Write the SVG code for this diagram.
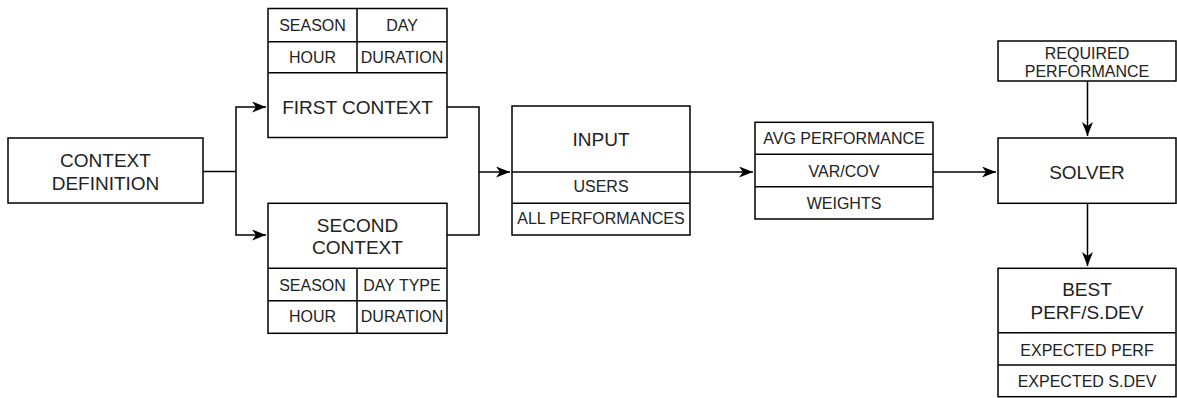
<svg xmlns="http://www.w3.org/2000/svg" width="1177" height="398" viewBox="0 0 1177 398">
<style>
rect,.sep{fill:none;stroke:#000;stroke-width:1.5}
rect{fill:#fff}
text{font-family:"Liberation Sans",Arial,sans-serif;fill:#222;text-anchor:middle}
.l{font-size:19px}
.s{font-size:16px}
.c{fill:none;stroke:#000;stroke-width:1.5}
</style>
<defs>
<marker id="a" viewBox="0 0 14 11" refX="14" refY="5.5" markerWidth="14" markerHeight="11" markerUnits="userSpaceOnUse" orient="auto">
<path d="M0,0 L14,5.5 L0,11 L4,5.5 Z" fill="#000"/>
</marker>
</defs>
<g id="connectors">
<path class="c" d="M203,171.5 H236 V107 H266" marker-end="url(#a)"/>
<path class="c" d="M236,171.5 V235 H266" marker-end="url(#a)"/>
<path class="c" d="M447,107 H479 V235 H447"/>
<path class="c" d="M479,172 H510" marker-end="url(#a)"/>
<path class="c" d="M690,172 H753" marker-end="url(#a)"/>
<path class="c" d="M933,172 H996" marker-end="url(#a)"/>
<path class="c" d="M1087.5,81 V136" marker-end="url(#a)"/>
<path class="c" d="M1087.5,203 V266" marker-end="url(#a)"/>
</g>
<g id="context-definition">
<rect x="8" y="138" width="195" height="65"/>
<text class="l" x="105.5" y="166.8">CONTEXT</text>
<text class="l" x="105.5" y="189.8">DEFINITION</text>
</g>
<g id="first-context">
<rect x="268" y="8.5" width="179" height="129"/>
<path class="sep" d="M268,41.7 H447 M268,72.7 H447 M357,8.5 V72.7"/>
<text class="s" x="312.5" y="30.7">SEASON</text>
<text class="s" x="402" y="30.7">DAY</text>
<text class="s" x="312.5" y="63">HOUR</text>
<text class="s" x="402" y="63">DURATION</text>
<text class="l" x="357.5" y="113.8">FIRST CONTEXT</text>
</g>
<g id="second-context">
<rect x="268" y="203.3" width="179" height="130"/>
<path class="sep" d="M268,268.3 H447 M268,300.7 H447 M357,268.3 V333.3"/>
<text class="l" x="357.5" y="231.8">SECOND</text>
<text class="l" x="357.5" y="253.8">CONTEXT</text>
<text class="s" x="312.5" y="290.7">SEASON</text>
<text class="s" x="402" y="290.7">DAY TYPE</text>
<text class="s" x="312.5" y="322.4">HOUR</text>
<text class="s" x="402" y="322.4">DURATION</text>
</g>
<g id="input">
<rect x="512" y="106" width="178" height="129"/>
<path class="sep" d="M512,172 H690 M512,203.3 H690"/>
<text class="l" x="601" y="146.1">INPUT</text>
<text class="s" x="601" y="192.4">USERS</text>
<text class="s" x="601" y="223.7">ALL PERFORMANCES</text>
</g>
<g id="metrics">
<rect x="755" y="122.3" width="178" height="96.7"/>
<path class="sep" d="M755,154.3 H933 M755,186.7 H933"/>
<text class="s" x="844" y="144.4">AVG PERFORMANCE</text>
<text class="s" x="844" y="176.6">VAR/COV</text>
<text class="s" x="844" y="208.8">WEIGHTS</text>
</g>
<g id="required-performance">
<rect x="998" y="41" width="178" height="40"/>
<text class="s" x="1087" y="59">REQUIRED</text>
<text class="s" x="1087" y="77.4">PERFORMANCE</text>
</g>
<g id="solver">
<rect x="998" y="138" width="178" height="65.3"/>
<text class="l" x="1087" y="178.5">SOLVER</text>
</g>
<g id="best">
<rect x="998" y="268.3" width="178" height="128.4"/>
<path class="sep" d="M998,332.7 H1176 M998,365 H1176"/>
<text class="l" x="1087" y="296.1">BEST</text>
<text class="l" x="1087" y="318.5">PERF/S.DEV</text>
<text class="s" x="1087" y="355.7">EXPECTED PERF</text>
<text class="s" x="1087" y="387.4">EXPECTED S.DEV</text>
</g>
</svg>
